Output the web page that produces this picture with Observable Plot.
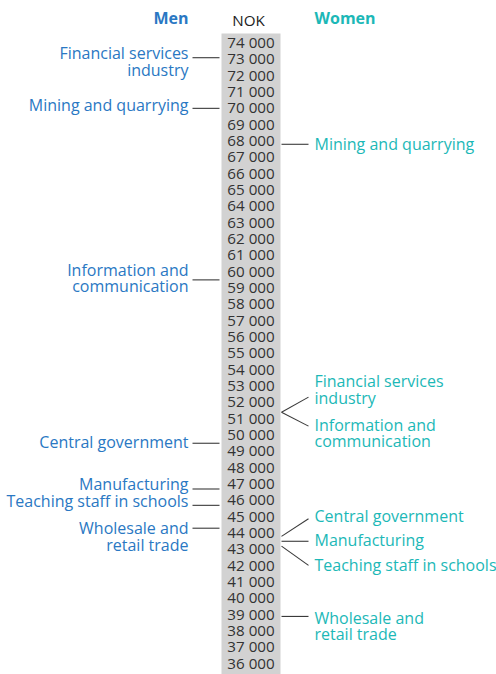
<!DOCTYPE html>
<html>
<head>
<meta charset="utf-8">
<script src="https://cdn.jsdelivr.net/npm/d3@7"></script>
<script src="https://cdn.jsdelivr.net/npm/@observablehq/plot@0.6"></script>
<style>
  html, body { margin: 0; padding: 0; background: #fff; }
</style>
</head>
<body>
<div id="chart"></div>
<script>
// ---- data ----
const categories = [
  "Financial services industry",
  "Mining and quarrying",
  "Information and communication",
  "Central government",
  "Manufacturing",
  "Teaching staff in schools",
  "Wholesale and retail trade"
];
const menLabels = [
  "Financial services\nindustry",
  "Mining and quarrying",
  "Information and\ncommunication",
  "Central government",
  "Manufacturing",
  "Teaching staff in schools",
  "Wholesale and\nretail trade"
];
const womenLabels = [
  "Financial services\nindustry",
  "Mining and quarrying",
  "Information and\ncommunication",
  "Central government",
  "Manufacturing",
  "Teaching staff in schools",
  "Wholesale and\nretail trade"
];
// monthly earnings, NOK
const menValues   = [73100, 70000, 59500, 49500, 46700, 45700, 44300];
const womenValues = [51400, 67800, 51400, 43800, 43500, 43200, 38900];
const tickValues = [74000, 73000, 72000, 71000, 70000, 69000, 68000, 67000, 66000, 65000,
  64000, 63000, 62000, 61000, 60000, 59000, 58000, 57000, 56000, 55000, 54000, 53000,
  52000, 51000, 50000, 49000, 48000, 47000, 46000, 45000, 44000, 43000, 42000, 41000,
  40000, 39000, 38000, 37000, 36000];
const headers = {men: "Men", unit: "NOK", women: "Women"};

// ---- layout (label placement on the NOK scale, to avoid overlaps) ----
const menLabelAt   = [72825, 70157, 59569, 49508, 46980, 45897, 43737];
const womenLabelAt = [52751, 67788, 50080, 44979, 43510, 41980, 38272];
const womenLineEnd = [52323, 67800, 50548, 44881, 43500, 42023, 38900];
const L = {
  width: 496, height: 674, top: 33,
  colLeft: 221, colRight: 280,
  menText: 188, menLine: [192, 219],
  womenLine: [281, 308], womenText: 314,
  unitX: 248
};
const menColor = "#2a78c3";
const womenColor = "#1cb8b7";
const lineColor = "#3a3a3a";

const rows = categories.map((c, i) => ({
  category: c,
  men: menValues[i],
  women: womenValues[i],
  menLabel: menLabels[i],
  womenLabel: womenLabels[i],
  menAt: menLabelAt[i],
  womenAt: womenLabelAt[i],
  womenEnd: womenLineEnd[i]
}));

const fmt = d3.formatLocale({thousands: " ", grouping: [3], decimal: ","}).format(",");

const chart = Plot.plot({
  width: L.width,
  height: L.height,
  marginTop: L.top,
  marginBottom: 0,
  marginLeft: L.colLeft,
  marginRight: L.width - L.colRight,
  x: {domain: [L.colLeft, L.colRight], axis: null},
  y: {domain: [36000, 74000], insetTop: 9.5, insetBottom: 10.7, axis: null},
  style: {fontFamily: "'Open Sans', sans-serif", background: "#fff", overflow: "visible"},
  marks: [
    Plot.frame({fill: "#d2d2d2", stroke: null}),
    Plot.text(tickValues, {y: d => d, text: d => fmt(d), frameAnchor: "middle",
      fontSize: 15.2, fill: "#333"}),
    // men connectors
    Plot.link(rows, {x1: L.menLine[0], x2: L.menLine[1], y1: "men", y2: "men",
      stroke: lineColor, strokeWidth: 1.1}),
    // women connectors
    Plot.link(rows, {x1: L.womenLine[0], x2: L.womenLine[1], y1: "women", y2: "womenEnd",
      stroke: lineColor, strokeWidth: 1.1}),
    // labels
    Plot.text(rows, {x: L.menText, y: "menAt", text: "menLabel", textAnchor: "end",
      lineAnchor: "middle", lineHeight: 1.03, fontSize: 16, fill: menColor}),
    Plot.text(rows, {x: L.womenText, y: "womenAt", text: "womenLabel", textAnchor: "start",
      lineAnchor: "middle", lineHeight: 1.03, fontSize: 16, fill: womenColor}),
    // headers
    Plot.text([headers.men], {x: L.menText, frameAnchor: "top", lineAnchor: "middle", dy: -15,
      textAnchor: "end", fontWeight: "bold", fontSize: 16, fill: menColor}),
    Plot.text([headers.unit], {x: L.unitX, frameAnchor: "top", lineAnchor: "middle", dy: -12,
      textAnchor: "middle", fontSize: 15.2, fill: "#222"}),
    Plot.text([headers.women], {x: L.womenText, frameAnchor: "top", lineAnchor: "middle", dy: -15,
      textAnchor: "start", fontWeight: "bold", fontSize: 16, fill: womenColor})
  ]
});
document.getElementById("chart").appendChild(chart);
</script>
</body>
</html>
